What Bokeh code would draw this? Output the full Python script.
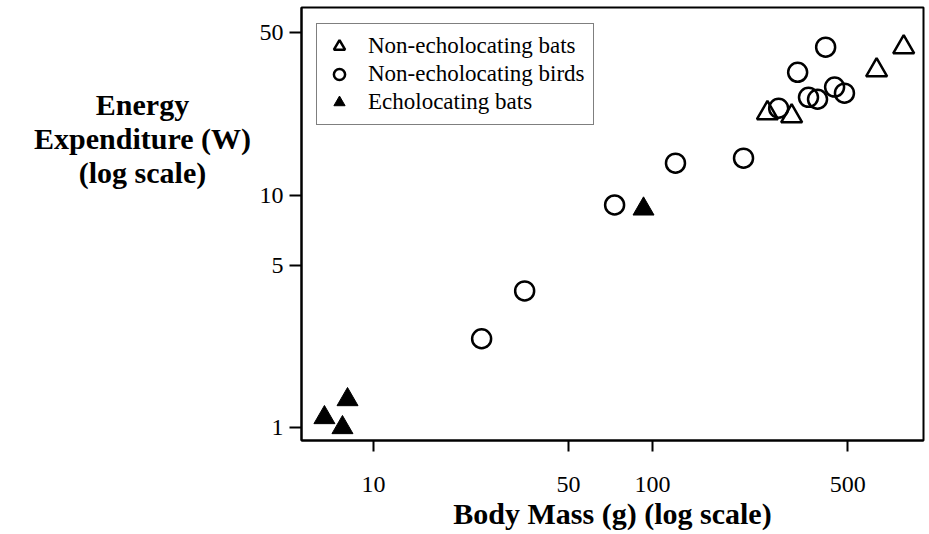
from bokeh.plotting import figure
from bokeh.models import FixedTicker, NumeralTickFormatter, Div
from bokeh.layouts import row
from bokeh.embed import file_html
from bokeh.resources import INLINE

# Data (body mass g, energy expenditure W)
nonecho_bats_mass = [258, 315, 635, 794]
nonecho_bats_energy = [22.5, 21.8, 34.4, 43.2]

birds_mass = [24.4, 34.8, 73.1, 120.8, 211.8, 283, 331, 362, 390, 417, 449, 487]
birds_energy = [2.41, 3.87, 9.06, 13.7, 14.4, 23.6, 33.7, 26.3, 25.8, 43.2, 29.1, 27.4]

echo_bats_mass = [6.67, 8.07, 7.74, 92.8]
echo_bats_energy = [1.104, 1.319, 1.0, 8.71]

x_ticks = [10, 50, 100, 500]
y_ticks = [1, 5, 10, 50]

y_title_lines = ["Energy", "Expenditure (W)", "(log scale)"]
x_title = "Body Mass (g) (log scale)"

FONT = "Liberation Serif"

p = figure(
    x_axis_type="log", y_axis_type="log",
    x_range=(5.52, 935), y_range=(0.88, 64),
    frame_width=622, frame_height=433,
    min_border_left=46, min_border_right=6, min_border_top=7, min_border_bottom=86,
    output_backend="svg", toolbar_location=None,
    background_fill_color="white", border_fill_color="white",
)
p.grid.visible = False
p.outline_line_color = "black"
p.outline_line_width = 2
p.outline_line_alpha = 1

p.scatter(nonecho_bats_mass, nonecho_bats_energy, marker="triangle", size=21,
          fill_color=None, line_color="black", line_width=2.5,
          legend_label="Non-echolocating bats")
p.scatter(birds_mass, birds_energy, marker="circle", size=19,
          fill_color=None, line_color="black", line_width=2.5,
          legend_label="Non-echolocating birds")
p.scatter(echo_bats_mass, echo_bats_energy, marker="triangle", size=21,
          fill_color="black", line_color="black", line_width=1,
          legend_label="Echolocating bats")

# axes
for ax in (p.xaxis[0], p.yaxis[0]):
    ax.axis_line_width = 2
    ax.axis_line_color = "black"
    ax.major_tick_line_width = 2
    ax.major_tick_line_color = "black"
    ax.minor_tick_line_color = None
    ax.major_tick_in = 0
    ax.major_label_text_font = FONT
    ax.major_label_text_font_size = "24px"
    ax.major_label_text_color = "black"
    ax.formatter = NumeralTickFormatter(format="0")

p.xaxis.ticker = FixedTicker(ticks=x_ticks)
p.yaxis.ticker = FixedTicker(ticks=y_ticks)
p.xaxis.major_tick_out = 11
p.yaxis.major_tick_out = 12
p.xaxis.major_label_standoff = 25
p.yaxis.major_label_standoff = 6

p.xaxis.axis_label = x_title
p.xaxis.axis_label_text_font = FONT
p.xaxis.axis_label_text_font_style = "bold"
p.xaxis.axis_label_text_font_size = "30px"
p.xaxis.axis_label_text_color = "black"
p.xaxis.axis_label_standoff = 2

# legend
lg = p.legend[0]
lg.location = (15, 315)
lg.label_text_font = FONT
lg.label_text_font_size = "23px"
lg.label_text_color = "black"
lg.border_line_color = "black"
lg.border_line_width = 1.5
lg.background_fill_alpha = 1
lg.padding = 8
lg.spacing = 0
lg.glyph_width = 28
lg.glyph_height = 28
lg.label_height = 28
lg.label_standoff = 15
lg.margin = 0

# horizontal, three-line y-axis title to the left of the plot
title_html = (
    '<div style="width:255px;box-sizing:border-box;padding-left:30px;padding-top:88px;'
    'text-align:center;white-space:nowrap;font-family:\'Liberation Serif\',serif;'
    'font-weight:bold;font-size:30px;line-height:34px;color:black;">'
    + "<br>".join(y_title_lines) + "</div>"
)
ytitle = Div(text=title_html, width=255, height=300, margin=0)

layout = row(ytitle, p, spacing=0)

open("out.html", "w").write(file_html(layout, INLINE))
